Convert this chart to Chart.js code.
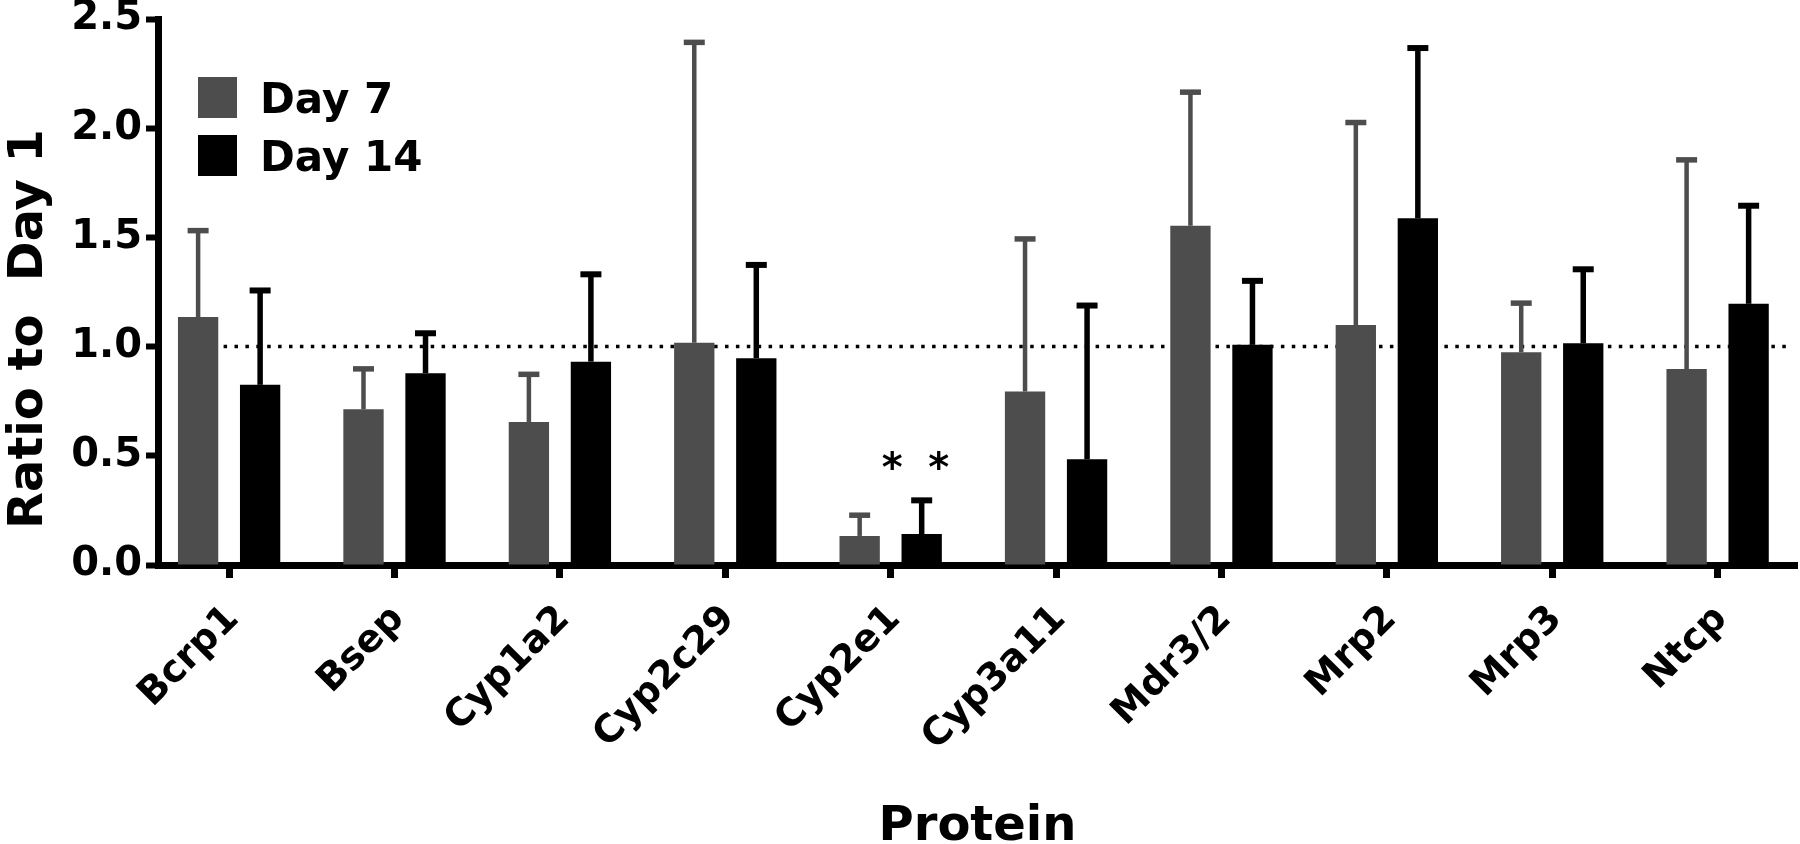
<!DOCTYPE html>
<html>
<head>
<meta charset="utf-8">
<script src="https://cdn.jsdelivr.net/npm/chart.js@4.4.1/dist/chart.umd.min.js"></script>
<style>
html,body{margin:0;padding:0;background:#fff;}
#wrap{width:1800px;height:844px;}
</style>
</head>
<body>
<div id="wrap"><canvas id="c" width="1800" height="844"></canvas></div>
<script>
// ---- data ----
const categories = ['Bcrp1','Bsep','Cyp1a2','Cyp2c29','Cyp2e1','Cyp3a11','Mdr3/2','Mrp2','Mrp3','Ntcp'];
const day7Mean  = [1.135, 0.713, 0.655, 1.018, 0.133, 0.794, 1.553, 1.099, 0.974, 0.898];
const day7SD    = [0.396, 0.185, 0.218, 1.375, 0.095, 0.699, 0.612, 0.927, 0.225, 0.957];
const day14Mean = [0.825, 0.878, 0.931, 0.947, 0.142, 0.484, 1.008, 1.588, 1.015, 1.196];
const day14SD   = [0.432, 0.183, 0.400, 0.427, 0.154, 0.704, 0.293, 0.779, 0.339, 0.449];
const seriesLabels = ['Day 7', 'Day 14'];
const yTickValues = [0, 0.5, 1.0, 1.5, 2.0, 2.5];
const yAxisTitle = 'Ratio to  Day 1';
const xAxisTitle = 'Protein';
const referenceLevel = 1.0;
const significantCategory = 'Cyp2e1';
const significanceLevel = 0.485;

const FONT = '"DejaVu Sans", sans-serif';
const GRAY = '#4d4d4d';

const errorBarPlugin = {
  id: 'errorBars',
  afterDatasetsDraw(chart) {
    const ctx = chart.ctx, ys = chart.scales.y;
    chart.data.datasets.forEach((ds, di) => {
      if (!ds.errors) return;
      const meta = chart.getDatasetMeta(di);
      meta.data.forEach((bar, i) => {
        const v = ds.data[i].y + ds.errors[i];
        const top = ys.getPixelForValue(v);
        ctx.save();
        ctx.strokeStyle = ds.backgroundColor;
        ctx.lineCap = 'butt';
        ctx.lineWidth = ds.errLineWidth;
        ctx.beginPath();
        ctx.moveTo(bar.x, bar.y);
        ctx.lineTo(bar.x, top);
        ctx.stroke();
        ctx.lineWidth = ds.capThickness;
        ctx.beginPath();
        ctx.moveTo(bar.x - 10.5, top);
        ctx.lineTo(bar.x + 10.5, top);
        ctx.stroke();
        ctx.restore();
      });
    });
  }
};

const refLinePlugin = {
  id: 'refLine',
  beforeDatasetsDraw(chart) {
    const ctx = chart.ctx, ys = chart.scales.y, ca = chart.chartArea;
    const y = ys.getPixelForValue(referenceLevel);
    ctx.save();
    ctx.strokeStyle = '#000';
    ctx.lineWidth = 3.5;
    ctx.setLineDash([3.5, 7.4]);
    ctx.beginPath();
    ctx.moveTo(ca.left + 22, y);
    ctx.lineTo(ca.right - 8, y);
    ctx.stroke();
    ctx.restore();
  }
};

const annotationPlugin = {
  id: 'annot',
  afterDraw(chart) {
    const ctx = chart.ctx, xs = chart.scales.x, ys = chart.scales.y, ca = chart.chartArea;
    // y axis title (sits slightly below the axis middle, as in the source figure)
    ctx.save();
    ctx.fillStyle = '#000';
    ctx.font = 'bold 48px ' + FONT;
    ctx.textAlign = 'center';
    ctx.textBaseline = 'middle';
    ctx.translate(30, (ca.top + ca.bottom) / 2 + 37);
    ctx.rotate(-Math.PI / 2);
    ctx.fillText(yAxisTitle, 0, 0);
    ctx.restore();
    // significance asterisks
    const idx = categories.indexOf(significantCategory);
    const size = 40;
    ctx.save();
    ctx.fillStyle = '#000';
    ctx.font = 'bold ' + size + 'px ' + FONT;
    ctx.textAlign = 'center';
    ctx.textBaseline = 'alphabetic';
    const yc = ys.getPixelForValue(significanceLevel) + size * 0.55;
    [0.01, 0.29].forEach(off => ctx.fillText('*', xs.getPixelForValue(idx + off), yc));
    ctx.restore();
    // legend
    ctx.save();
    ctx.font = 'bold 42px ' + FONT;
    ctx.textAlign = 'left';
    ctx.textBaseline = 'alphabetic';
    chart.data.datasets.forEach((ds, i) => {
      const bx = ca.left + 40, by = ca.top + 58 + i * 58;
      ctx.fillStyle = ds.backgroundColor;
      ctx.fillRect(bx, by, 39, 41);
      ctx.fillStyle = '#000';
      ctx.fillText(ds.label, bx + 62, by + 20.5 + 15.3);
    });
    ctx.restore();
  }
};

const chart = new Chart(document.getElementById('c'), {
  type: 'bar',
  data: {
    datasets: [
      {
        label: seriesLabels[0],
        data: categories.map((c, i) => ({ x: i, y: day7Mean[i] })),
        errors: day7SD,
        backgroundColor: GRAY,
        borderWidth: 0,
        errLineWidth: 4.5,
        capThickness: 5.5,
        categoryPercentage: 0.75,
        barPercentage: 0.65
      },
      {
        label: seriesLabels[1],
        data: categories.map((c, i) => ({ x: i, y: day14Mean[i] })),
        errors: day14SD,
        backgroundColor: '#000000',
        borderWidth: 0,
        errLineWidth: 5.5,
        capThickness: 6,
        categoryPercentage: 0.75,
        barPercentage: 0.65
      }
    ]
  },
  options: {
    responsive: false,
    animation: false,
    devicePixelRatio: 1,
    layout: { padding: { top: 19, right: 3, left: 0, bottom: 0 } },
    plugins: { legend: { display: false }, tooltip: { enabled: false } },
    scales: {
      x: {
        type: 'linear',
        min: -0.43,
        max: 9.48,
        offset: false,
        z: 1,
        afterBuildTicks: (s) => { s.ticks = categories.map((c, i) => ({ value: i })); },
        afterFit: (s) => { s.height = 279; },
        grid: { display: true, offset: false, drawOnChartArea: false, drawTicks: true, tickLength: 13, tickWidth: 7, tickColor: '#000' },
        border: { display: true, width: 7, color: '#000' },
        ticks: {
          autoSkip: false,
          minRotation: 45,
          maxRotation: 45,
          padding: 19,
          labelOffset: 4,
          color: '#000',
          font: { family: FONT, size: 38, weight: 'bold' },
          callback: (v) => categories[v] !== undefined ? categories[v] : ''
        },
        title: {
          display: true,
          text: xAxisTitle,
          color: '#000',
          font: { family: FONT, size: 48, weight: 'bold', lineHeight: 0.7 },
          padding: { top: 0, bottom: 0 }
        }
      },
      y: {
        min: 0,
        max: 2.5,
        z: 1,
        afterBuildTicks: (s) => { s.ticks = yTickValues.map(v => ({ value: v })); },
        afterFit: (s) => { s.width = 158; },
        grid: { display: true, drawOnChartArea: false, drawTicks: true, tickLength: 12, tickWidth: 6, tickColor: '#000' },
        border: { display: true, width: 7, color: '#000' },
        ticks: {
          padding: 4,
          color: '#000',
          font: { family: FONT, size: 40, weight: 'bold', lineHeight: 0.4 },
          callback: (v) => Number(v).toFixed(1)
        },
        title: { display: false }
      }
    }
  },
  plugins: [refLinePlugin, errorBarPlugin, annotationPlugin]
});
</script>
</body>
</html>
